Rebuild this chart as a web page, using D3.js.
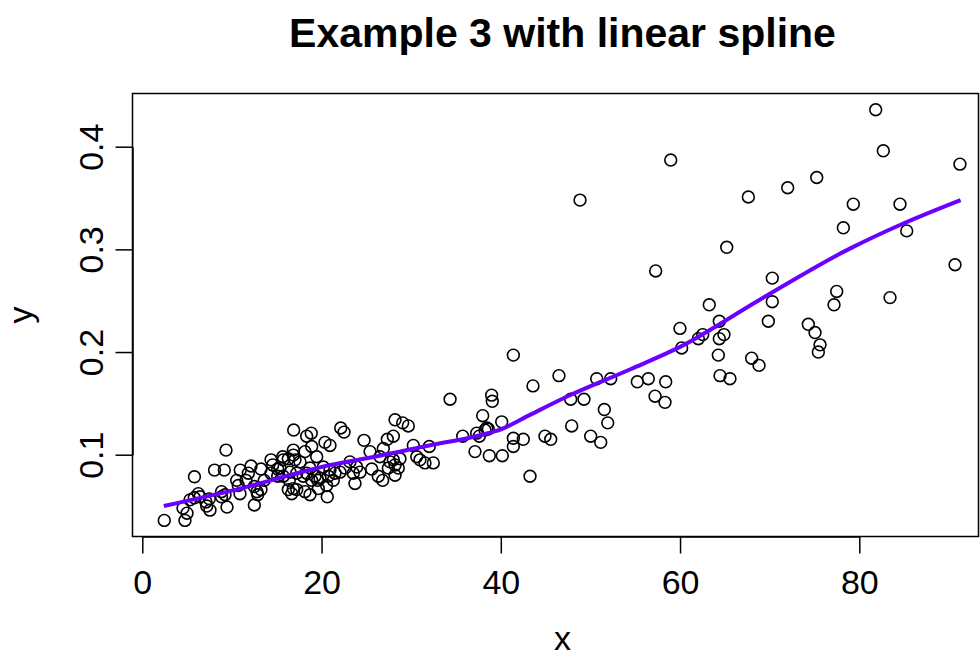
<!DOCTYPE html>
<html>
<head>
<meta charset="utf-8">
<script src="https://cdn.jsdelivr.net/npm/d3@7"></script>
<style>
body { margin: 0; background: #fff; }
text { font-family: "Liberation Sans", Arial, Helvetica, sans-serif; fill: #000; }
</style>
</head>
<body>
<div id="chart"></div>
<script>
// scatter values
var xs = [2.45,4.54,4.99,4.76,5.32,5.80,6.25,6.44,7.11,7.48,7.55,7.19,5.82,8.06,9.15,9.34,8.84,9.23,8.84,9.45,
          10.53,10.71,10.90,10.93,11.83,12.13,11.57,12.50,12.80,12.50,12.88,13.24,13.24,13.61,14.36,15.11,14.36,14.55,15.67,15.11,
          15.36,15.73,16.48,16.40,16.29,16.85,16.67,17.23,16.89,18.34,18.85,16.85,16.85,18.15,18.90,19.46,15.73,16.29,17.04,17.60,
          18.71,18.34,19.27,18.90,17.96,17.23,18.71,18.15,19.64,20.64,19.57,20.20,20.94,21.50,22.06,22.62,20.75,19.83,21.31,20.57,
          20.38,20.94,22.14,22.51,23.17,23.92,23.54,24.29,23.73,24.74,25.41,26.52,26.89,25.60,26.33,26.82,27.34,28.01,28.20,29.05,
          29.68,27.64,28.20,28.56,28.20,27.45,28.01,28.75,30.24,30.62,32.02,30.98,31.54,32.47,35.75,37.31,37.12,34.34,38.98,39.05,
          37.98,40.10,38.43,38.61,38.24,37.60,41.40,42.51,41.40,44.93,45.57,47.91,50.03,51.15,38.72,40.17,43.26,41.40,43.59,46.49,
          50.70,52.26,47.80,49.28,51.55,51.93,48.84,58.96,55.23,56.46,58.40,57.28,57.21,58.32,59.99,60.18,62.53,62.04,63.26,64.38,
          64.90,64.38,64.27,64.46,65.57,65.21,67.62,67.99,68.81,69.85,70.29,70.29,72.01,75.25,74.31,75.06,75.62,75.43,77.48,77.18,
          78.22,79.33,81.83,82.68,83.43,84.54,85.29,90.68,91.23];
var ys = [0.036,0.048,0.043,0.036,0.056,0.058,0.062,0.059,0.054,0.057,0.046,0.050,0.0785,0.085,0.085,0.1045,0.064,0.061,0.059,0.049,
          0.075,0.070,0.062,0.085,0.082,0.089,0.075,0.069,0.064,0.051,0.061,0.066,0.086,0.075,0.082,0.079,0.095,0.090,0.098,0.086,
          0.087,0.079,0.083,0.075,0.066,0.067,0.062,0.066,0.124,0.118,0.121,0.1045,0.0996,0.103,0.108,0.098,0.095,0.096,0.095,0.093,
          0.087,0.082,0.079,0.075,0.079,0.082,0.061,0.064,0.067,0.059,0.075,0.088,0.085,0.082,0.083,0.087,0.079,0.077,0.075,0.070,
          0.112,0.109,0.126,0.122,0.093,0.088,0.082,0.083,0.072,0.114,0.103,0.098,0.106,0.086,0.079,0.075,0.115,0.118,0.134,0.131,
          0.128,0.093,0.090,0.087,0.080,0.087,0.095,0.096,0.109,0.098,0.108,0.095,0.092,0.092,0.118,0.121,0.103,0.154,0.158,0.152,
          0.138,0.132,0.126,0.125,0.124,0.118,0.116,0.115,0.108,0.118,0.115,0.128,0.118,0.112,0.099,0.099,0.079,0.197,0.167,0.177,
          0.174,0.174,0.154,0.154,0.144,0.131,0.348,0.387,0.171,0.174,0.171,0.279,0.157,0.151,0.223,0.204,0.217,0.213,0.246,0.230,
          0.217,0.213,0.197,0.177,0.174,0.302,0.351,0.194,0.187,0.230,0.249,0.272,0.360,0.370,0.227,0.219,0.207,0.200,0.259,0.246,
          0.321,0.344,0.436,0.396,0.253,0.344,0.318,0.285,0.383];

// fitted linear spline
var fitX = [2.4, 10, 21, 26.5, 32, 37.7, 40.1, 43.3, 47, 54.4, 60, 68.9, 79, 84.6, 91.3];
var fitY = [0.050, 0.065, 0.090, 0.099, 0.109, 0.119, 0.125, 0.139, 0.155, 0.183, 0.205, 0.251, 0.301, 0.324, 0.348];

var xTicks = [0, 20, 40, 60, 80];
var yTicks = [0.1, 0.2, 0.3, 0.4];

var width = 980, height = 657;

var svg = d3.select("#chart")
    .append("svg")
    .attr("width", width)
    .attr("height", height);

var x = d3.scaleLinear().domain([0, 80]).range([142.3, 859.3]);
var y = d3.scaleLinear().domain([0.1, 0.4]).range([454.7, 146.7]);

// plot box
svg.append("rect")
    .attr("x", 132.5)
    .attr("y", 93.5)
    .attr("width", 846)
    .attr("height", 443)
    .attr("fill", "none")
    .attr("stroke", "#000")
    .attr("stroke-width", 1.5);

// x axis
var xAxis = svg.append("g")
    .attr("transform", "translate(0,536.5)")
    .call(d3.axisBottom(x).tickValues(xTicks).tickSize(17).tickSizeOuter(0)
        .tickFormat(d3.format("d")));
xAxis.selectAll("line, path").attr("stroke", "#000").attr("stroke-width", 1.5);
xAxis.selectAll("text")
    .attr("fill", "#000")
    .style("font-size", "34px")
    .attr("dy", 0)
    .attr("y", 57.5);

// y axis
var yAxis = svg.append("g")
    .attr("transform", "translate(132.5,0)")
    .call(d3.axisLeft(y).tickValues(yTicks).tickSize(17).tickSizeOuter(0)
        .tickFormat(d3.format(".1f")));
yAxis.selectAll("line, path").attr("stroke", "#000").attr("stroke-width", 1.5);
yAxis.selectAll("text")
    .attr("fill", "#000")
    .style("font-size", "34px")
    .attr("transform", "rotate(-90)")
    .attr("text-anchor", "middle")
    .attr("x", 0)
    .attr("dy", 0)
    .attr("y", -30);

// points
svg.append("g")
    .selectAll("circle")
    .data(xs)
    .enter()
    .append("circle")
    .attr("cx", function(d) { return x(d); })
    .attr("cy", function(d, i) { return y(ys[i]); })
    .attr("r", 5.9)
    .attr("fill", "none")
    .attr("stroke", "#000")
    .attr("stroke-width", 1.6);

// spline
var line = d3.line()
    .x(function(d) { return x(d); })
    .y(function(d, i) { return y(fitY[i]); })
    .curve(d3.curveMonotoneX);

svg.append("path")
    .attr("d", line(fitX))
    .attr("fill", "none")
    .attr("stroke", "#6a00ff")
    .attr("stroke-width", 4);

// titles
svg.append("text")
    .attr("x", 562.5)
    .attr("y", 47)
    .attr("text-anchor", "middle")
    .style("font-size", "41px")
    .style("font-weight", "bold")
    .text("Example 3 with linear spline");

svg.append("text")
    .attr("x", 562.5)
    .attr("y", 650)
    .attr("text-anchor", "middle")
    .style("font-size", "34px")
    .text("x");

svg.append("text")
    .attr("transform", "translate(32,315) rotate(-90)")
    .attr("text-anchor", "middle")
    .style("font-size", "34px")
    .text("y");
</script>
</body>
</html>
